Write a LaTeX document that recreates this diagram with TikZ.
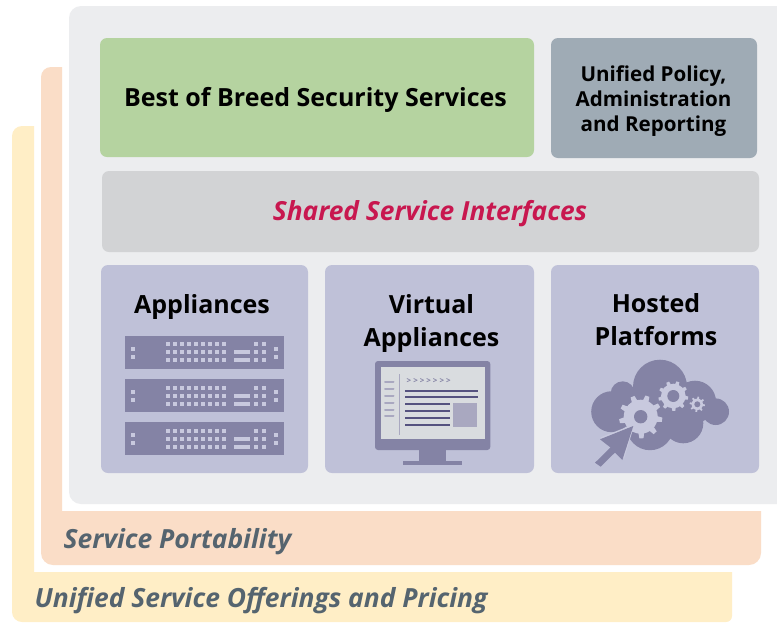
\documentclass[tikz,border=0pt]{standalone}
\usepackage{fontspec}
\setmainfont{Open Sans}
\usetikzlibrary{calc}
\definecolor{panelc}{HTML}{ECEDEF}
\definecolor{orangec}{HTML}{FADDC7}
\definecolor{yellowc}{HTML}{FFEEC6}
\definecolor{greenc}{HTML}{B5D3A0}
\definecolor{slatec}{HTML}{9FABB5}
\definecolor{sharedc}{HTML}{D2D3D5}
\definecolor{lavc}{HTML}{BFC1D8}
\definecolor{darkc}{HTML}{8483A5}
\definecolor{lightc}{HTML}{C8C9DE}
\definecolor{screenc}{HTML}{D9DCDF}
\definecolor{linec}{HTML}{55527F}
\definecolor{midc}{HTML}{A9A8C0}
\definecolor{crimson}{HTML}{C8174F}
\definecolor{labelc}{HTML}{55646F}
\tikzset{
  x=1pt,y=-1pt,
  boxlabel/.style={font=\bfseries\fontsize{25}{33}\selectfont,text=black,align=center,inner sep=0pt},
  layerlabel/.style={font=\bfseries\itshape\fontsize{26.4}{28}\selectfont,text=labelc,inner sep=0pt,anchor=west},
  linedraw/.style={draw=linec,line width=2pt},
  shortdash/.style={draw=midc,line width=2pt,line cap=round},
}
\newcommand{\rbox}[6]{\fill[#6,rounded corners=#5pt] (#1,#2) rectangle (#3,#4);}
\newcommand{\rackunit}[1]{%
  \fill[darkc] (124.7,#1) rectangle (283.7,#1+32.7);
  \foreach \r in {8.3,16.3,24.3}{
    \foreach \c in {0,...,8}{\fill[lightc] (168+\c*7.04-2.1,#1+\r-2.1) rectangle +(4.2,4.2);}
    \foreach \c in {256.3,264.3}{\fill[lightc] (\c-2.1,#1+\r-2.1) rectangle +(4.2,4.2);}
  }
  \foreach \r in {16.3,24.3}{\fill[lightc] (234.3,#1+\r-2.1) rectangle +(16,4.2);}
  \foreach \r in {12.7,20.7}{
    \fill[lightc] (133-2.1,#1+\r-2.1) rectangle +(4.2,4.2);
    \fill[lightc] (275.7-2.1,#1+\r-2.1) rectangle +(4.2,4.2);
  }
}
\newcommand{\gearshape}[6]{% x y outer root hole teeth
  \fill[lightc] (#1,#2) circle[radius=#4];
  \foreach \k in {1,...,#6}{
    \pgfmathsetmacro{\ang}{360/#6*\k+8}
    \pgfmathsetmacro{\wa}{90/#6}
    \fill[lightc] ($(#1,#2)+(\ang-\wa:#4-0.5)$) -- ($(#1,#2)+(\ang-\wa*0.55:#3)$) -- ($(#1,#2)+(\ang+\wa*0.55:#3)$) -- ($(#1,#2)+(\ang+\wa:#4-0.5)$) -- cycle;
  }
  \fill[darkc] (#1,#2) circle[radius=#5];
}
\begin{document}
\begin{tikzpicture}
\useasboundingbox (0,0) rectangle (777,622);
\fill[white] (0,0) rectangle (777,622);
% layers
\fill[yellowc] (34,126) [rounded corners=10pt] -- (12,126) -- (12,622) [rounded corners=6pt] -- (732,622) [sharp corners] -- (732,572) -- (34,572) -- cycle;
\fill[orangec] (62,67) [rounded corners=10pt] -- (41,67) [rounded corners=12pt] -- (41,565) -- (761,565) [sharp corners] -- (761,511) -- (62,511) -- cycle;
\fill[panelc] (777,6) [rounded corners=12pt] -- (69,6) -- (69,504) [sharp corners] -- (777,504) -- cycle;
% top boxes
\rbox{100}{38}{534}{157}{7}{greenc}
\node[boxlabel] (best) at (315.5,99.5) {Best of Breed Security Services};
\rbox{551}{38}{757}{158}{7}{slatec}
\node[boxlabel,font=\bfseries\fontsize{20.6}{24.8}\selectfont] (unified) at (653.5,101) {Unified Policy,\\Administration\\and Reporting};
\rbox{102}{171}{759}{252}{7}{sharedc}
\node[font=\bfseries\itshape\fontsize{26.3}{28}\selectfont,text=crimson,inner sep=0pt] (shared) at (430,214) {Shared Service Interfaces};
\rbox{101}{265}{308}{473}{7}{lavc}
\rbox{325}{265}{534}{473}{7}{lavc}
\rbox{551}{265}{759}{473}{7}{lavc}
\node[boxlabel] (appl) at (202,306.5) {Appliances};
\node[boxlabel] (virt) at (431.5,323) {Virtual\\Appliances};
\node[boxlabel] (host) at (656,320) {Hosted\\Platforms};
\node[layerlabel] (port) at (63.5,542) {Service Portability};
\node[layerlabel] (offer) at (34.5,601) {Unified Service Offerings and Pricing};
% racks
\rackunit{336}
\rackunit{379.3}
\rackunit{422.3}
% monitor
\rbox{375}{361}{490.3}{450}{3}{darkc}
\fill[screenc] (380.7,366.7) rectangle (485,438.7);
\fill[darkc] (419,450) rectangle (446,461);
\fill[darkc] (403.3,461) rectangle (462,464.7);
\foreach \yy in {382.3,389.3,396,402.7,409.7,416.3}{\draw[shortdash] (385,\yy) -- (393.5,\yy);}
\draw[draw=midc,line width=1.3pt] (399.7,374) -- (399.7,434.7);
\node[font=\bfseries\fontsize{8}{8}\selectfont,text=darkc,anchor=west,inner sep=0pt] (prompt) at (406.5,380.7) {>\kern2pt>\kern2pt>\kern2pt>\kern2pt>\kern2pt>\kern2pt>};
\foreach \yy in {390.7,397.3}{\draw[linedraw] (405,\yy) -- (478.3,\yy);}
\foreach \yy in {404,411,417.7,424.7}{\draw[linedraw] (405,\yy) -- (450,\yy);}
\fill[midc] (453,403) rectangle (477,427);
% cloud
\fill[darkc] (660,386.7) circle[radius=27] (611.7,411.7) circle[radius=20.5] (622.7,393.3) circle[radius=12]
  (695,401.7) circle[radius=21] (715.7,411.7) circle[radius=13.3] (650,426.7) circle[radius=23.5] (683.3,423.3) circle[radius=20];
\fill[darkc] (612,395) rectangle (700,425);
\gearshape{640.7}{416.7}{21.7}{17}{6.7}{9}
\gearshape{673.3}{396}{15}{12.3}{6}{9}
\gearshape{697.3}{404.3}{7.7}{5.7}{3}{8}
% arrow
\draw[lightc,line width=1.6pt] (601,438) -- (633.3,425.3) -- (623.5,458);
\fill[darkc] (633.3,426) -- (600,439.3) -- (610.5,447.5) -- (595,462.7) -- (600.7,466.7) -- (615,452.5) -- (622.3,460) -- cycle;
\end{tikzpicture}
\end{document}
